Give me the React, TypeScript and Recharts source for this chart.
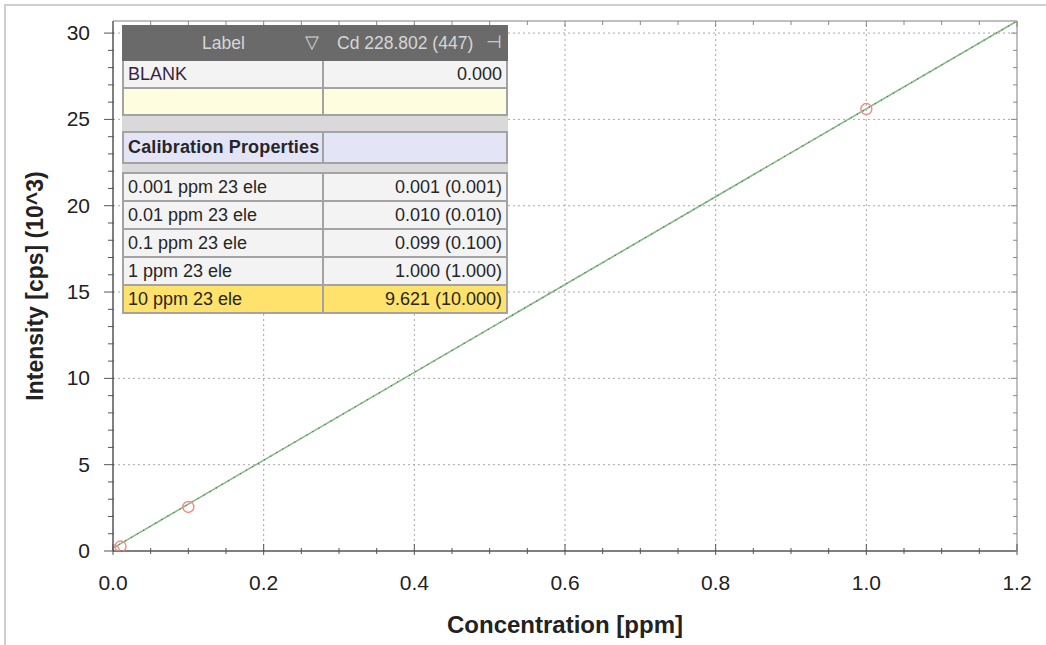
import React from "react";
import {
  ComposedChart,
  Scatter,
  XAxis,
  YAxis,
  ReferenceLine,
} from "recharts";

// calibration standards (ppm) and measured intensity (10^3 cps)
const conc = [0.001, 0.01, 0.1, 1.0];
const intensity = [0.03, 0.26, 2.55, 25.6];

// fitted calibration line end points
const fitX = [0, 1.2];
const fitY = [0.17, 30.7];

const xTicks = [
  0, 0.05, 0.1, 0.15, 0.2, 0.25, 0.3, 0.35, 0.4, 0.45, 0.5, 0.55, 0.6, 0.65,
  0.7, 0.75, 0.8, 0.85, 0.9, 0.95, 1.0, 1.05, 1.1, 1.15, 1.2,
];
const xMajor = [0, 0.2, 0.4, 0.6, 0.8, 1.0, 1.2];
const yTicks = [
  0, 1, 2, 3, 4, 5, 6, 7, 8, 9, 10, 11, 12, 13, 14, 15, 16, 17, 18, 19, 20, 21,
  22, 23, 24, 25, 26, 27, 28, 29, 30,
];
const yMajor = [0, 5, 10, 15, 20, 25, 30];

// overlay table
const tableHeader = ["Label", "Cd 228.802 (447)"];
const blankRow = ["BLANK", "0.000"];
const standardNames = [
  "0.001 ppm 23 ele",
  "0.01 ppm 23 ele",
  "0.1 ppm 23 ele",
  "1 ppm 23 ele",
  "10 ppm 23 ele",
];
const standardValues = [
  "0.001 (0.001)",
  "0.010 (0.010)",
  "0.099 (0.100)",
  "1.000 (1.000)",
  "9.621 (10.000)",
];

const points = conc.map((c, i) => ({ x: c, y: intensity[i] }));
const fitLine = fitX.map((x, i) => ({ x, y: fitY[i] }));

const FONT = "'Liberation Sans', Arial, sans-serif";
const near = (v: number, list: number[]) => list.some((m) => Math.abs(m - v) < 1e-9);

const BottomTick = (props: any) => {
  const { x, y, payload } = props;
  const major = near(payload.value, xMajor);
  return (
    <g>
      <line x1={x} x2={x} y1={y - (major ? 7 : 3)} y2={y + (major ? 4 : 3)} stroke="#555" />
      {major && (
        <text x={x} y={y + 39} textAnchor="middle" fontSize={21} fill="#222" fontFamily={FONT}>
          {payload.value.toFixed(1)}
        </text>
      )}
    </g>
  );
};

const LeftTick = (props: any) => {
  const { x, y, payload } = props;
  const major = near(payload.value, yMajor);
  return (
    <g>
      <line x1={x - (major ? 9 : 5)} x2={x + 1} y1={y} y2={y} stroke="#555" />
      {major && (
        <text x={x - 23} y={y + 7} textAnchor="end" fontSize={21} fill="#222" fontFamily={FONT}>
          {payload.value}
        </text>
      )}
    </g>
  );
};

const TopTick = (props: any) => {
  const { x, y, payload } = props;
  const major = near(payload.value, xMajor);
  return <line x1={x} x2={x} y1={y} y2={y + (major ? 6 : 4)} stroke="#888" />;
};

const RightTick = (props: any) => {
  const { x, y, payload } = props;
  const major = near(payload.value, yMajor);
  return <line x1={x - (major ? 6 : 4)} x2={x} y1={y} y2={y} stroke="#888" />;
};

const Ring = (props: any) => {
  const { cx, cy } = props;
  return <circle cx={cx} cy={cy} r={5.5} fill="none" stroke="#f08a8a" strokeWidth={1.4} />;
};

const cellBorder = "2px solid #a3a3a3";

const Row = ({ cells, bg, height, bold, color }: any) => (
  <div style={{ display: "flex", height, background: bg }}>
    <div
      style={{
        width: 202,
        borderRight: cellBorder,
        borderBottom: cellBorder,
        borderLeft: cellBorder,
        padding: "0 4px",
        boxSizing: "border-box",
        lineHeight: height - 2 + "px",
        fontWeight: bold ? 700 : 400,
        letterSpacing: bold ? 0.15 : 0,
        whiteSpace: "nowrap",
        overflow: "hidden",
        color: color || "#262626",
      }}
    >
      {cells[0]}
    </div>
    <div
      style={{
        flex: 1,
        borderRight: cellBorder,
        borderBottom: cellBorder,
        padding: "0 4px",
        boxSizing: "border-box",
        lineHeight: height - 2 + "px",
        textAlign: "right",
        whiteSpace: "nowrap",
        color: "#262626",
      }}
    >
      {cells[1]}
    </div>
  </div>
);

const CalibTable = () => (
  <div
    style={{
      position: "absolute",
      left: 122,
      top: 25,
      width: 386,
      fontFamily: FONT,
      fontSize: 18,
      background: "#d9d9d9",
    }}
  >
    <div
      style={{
        display: "flex",
        height: 36,
        background: "#6a6a6a",
        color: "#d6d6d6",
        alignItems: "center",
        fontSize: 17.5,
      }}
    >
      <div style={{ width: 203, position: "relative", textAlign: "center" }}>
        {tableHeader[0]}
        <span style={{ position: "absolute", right: 6, top: -1 }}>▽</span>
      </div>
      <div style={{ flex: 1, position: "relative", paddingLeft: 12 }}>
        {tableHeader[1]}
        <span style={{ position: "absolute", right: 6, top: -1 }}>⊣</span>
      </div>
    </div>
    <Row cells={blankRow} bg="#f3f3f3" height={28} color="#3a1f40" />
    <Row cells={["", ""]} bg="#fffde0" height={27} />
    <div style={{ height: 15 }} />
    <div style={{ borderTop: cellBorder }}>
      <Row cells={["Calibration Properties", ""]} bg="#e4e4f7" height={31} bold />
    </div>
    <div style={{ height: 8 }} />
    <div style={{ borderTop: cellBorder }}>
      {standardNames.map((n, i) => (
        <Row
          key={n}
          cells={[n, standardValues[i]]}
          bg={i === standardNames.length - 1 ? "#ffe26c" : "#f3f3f3"}
          height={28}
        />
      ))}
    </div>
  </div>
);

export default function App() {
  return (
    <div
      style={{
        position: "absolute",
        left: 0,
        top: 0,
        width: 1046,
        height: 645,
        background: "#fff",
        overflow: "hidden",
      }}
    >
      <div
        style={{
          position: "absolute",
          left: 4,
          top: 4,
          right: 0,
          bottom: 0,
          borderLeft: "2px solid #cfcfcf",
          borderTop: "2px solid #cfcfcf",
        }}
      />
      <ComposedChart
        width={1046}
        height={645}
        margin={{ top: 20, right: 28, bottom: 0, left: 0 }}
        style={{ position: "absolute", left: 0, top: 0 }}
      >
        <XAxis
          xAxisId="b"
          dataKey="x"
          type="number"
          domain={[0, 1.2]}
          allowDataOverflow
          ticks={xTicks}
          interval={0}
          tickSize={0}
          tickMargin={0}
          tickLine={false}
          tick={<BottomTick />}
          axisLine={{ stroke: "#555", strokeWidth: 1.5 }}
          height={94}
          label={{
            value: "Concentration [ppm]",
            position: "insideBottom",
            offset: 12,
            fontSize: 24,
            fontWeight: 700,
            fill: "#222",
            fontFamily: FONT,
          }}
        />
        <XAxis
          xAxisId="t"
          orientation="top"
          dataKey="x"
          type="number"
          domain={[0, 1.2]}
          allowDataOverflow
          ticks={xTicks}
          interval={0}
          tickSize={0}
          tickMargin={0}
          tickLine={false}
          tick={<TopTick />}
          axisLine={{ stroke: "#aaa", strokeWidth: 1.5 }}
          height={1}
        />
        <YAxis
          yAxisId="l"
          dataKey="y"
          type="number"
          domain={[0, 30.7]}
          allowDataOverflow
          ticks={yTicks}
          interval={0}
          tickSize={0}
          tickMargin={0}
          tickLine={false}
          tick={<LeftTick />}
          axisLine={{ stroke: "#555", strokeWidth: 1.5 }}
          width={113}
          label={{
            value: "Intensity [cps] (10^3)",
            angle: -90,
            position: "insideLeft",
            offset: 35,
            fontSize: 23,
            fontWeight: 700,
            fill: "#222",
            fontFamily: FONT,
            style: { textAnchor: "middle" },
          }}
        />
        <YAxis
          yAxisId="r"
          orientation="right"
          dataKey="y"
          type="number"
          domain={[0, 30.7]}
          allowDataOverflow
          ticks={yTicks}
          interval={0}
          tickSize={0}
          tickMargin={0}
          tickLine={false}
          tick={<RightTick />}
          axisLine={{ stroke: "#aaa", strokeWidth: 1.5 }}
          width={1}
        />
        {xMajor.slice(1, -1).map((v) => (
          <ReferenceLine key={"x" + v} x={v} xAxisId="b" yAxisId="l" stroke="#a8a8a8" strokeDasharray="2 3" />
        ))}
        {yMajor.slice(1).map((v) => (
          <ReferenceLine key={"y" + v} y={v} xAxisId="b" yAxisId="l" stroke="#a8a8a8" strokeDasharray="2 3" />
        ))}
        <Scatter
          data={fitLine}
          xAxisId="b"
          yAxisId="l"
          line={{ stroke: "#86bb86", strokeWidth: 1.6 }}
          shape={() => null}
          isAnimationActive={false}
        />
        <Scatter
          data={fitLine}
          xAxisId="b"
          yAxisId="l"
          line={{ stroke: "#4f6f4f", strokeWidth: 1.2, strokeDasharray: "1 6" }}
          shape={() => null}
          isAnimationActive={false}
        />
        <Scatter
          data={points}
          xAxisId="b"
          yAxisId="l"
          shape={<Ring />}
          isAnimationActive={false}
        />
        <Scatter data={fitLine} xAxisId="t" yAxisId="r" shape={() => null} isAnimationActive={false} />
      </ComposedChart>
      <CalibTable />
    </div>
  );
}
